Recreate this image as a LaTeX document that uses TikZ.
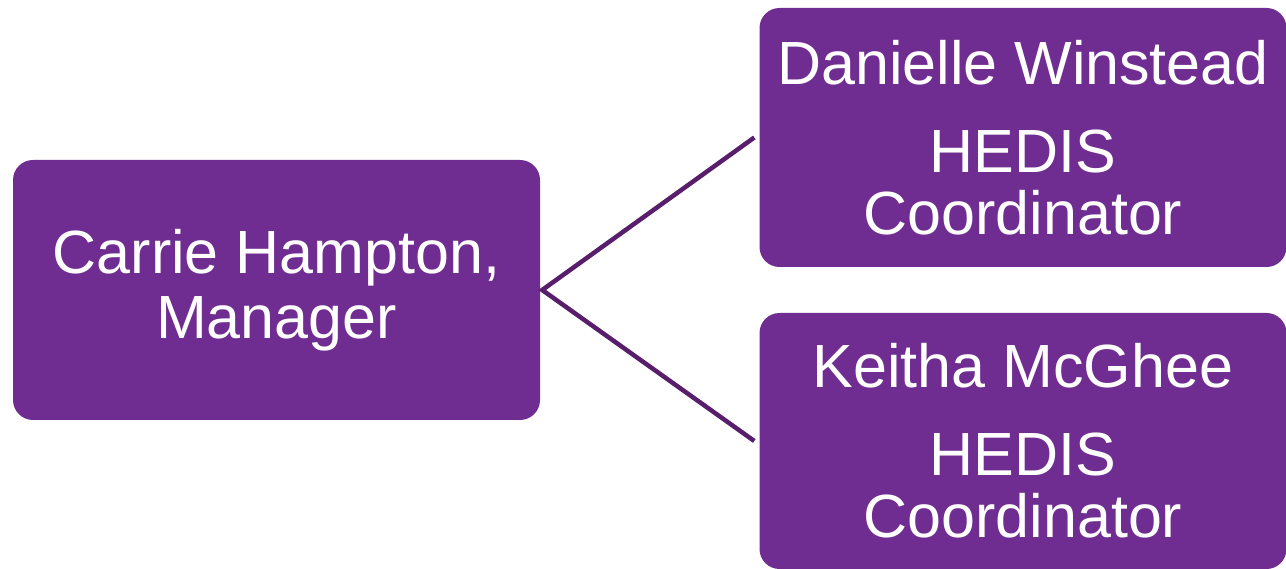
\documentclass[tikz,border=0pt]{standalone}
\usepackage{fontspec}
\setmainfont{Liberation Sans}
\usepackage{xcolor}
\definecolor{boxpurple}{RGB}{112,45,145}
\definecolor{linepurple}{RGB}{88,30,108}
\begin{document}
\begin{tikzpicture}[x=1pt,y=-1pt,
  box/.style={fill=boxpurple, rounded corners=20pt, text=white, inner sep=0pt,
    font=\fontsize{61}{62}\selectfont, align=center, minimum width=527pt},
  link/.style={draw=linepurple, line width=4.5pt}]
\useasboundingbox (0,0) rectangle (1286,569);
\node[box, minimum height=260pt] (Manager) at (276.5,290) {Carrie Hampton,\\[3pt]Manager};
\node[box, minimum height=259pt] (Winstead) at (1023,137.5) {Danielle Winstead\\[26pt]HEDIS\\Coordinator};
\node[box, minimum height=256pt] (McGhee) at (1023,441) {Keitha McGhee\\[26pt]HEDIS\\Coordinator};
\coordinate (Fork) at ([xshift=2pt]Manager.east);
\coordinate (TopEnd) at ([xshift=-5pt]Winstead.west);
\coordinate (BotEnd) at ([xshift=-5pt]McGhee.west);
\draw[link] (TopEnd) -- (Fork) -- (BotEnd);
\end{tikzpicture}
\end{document}
